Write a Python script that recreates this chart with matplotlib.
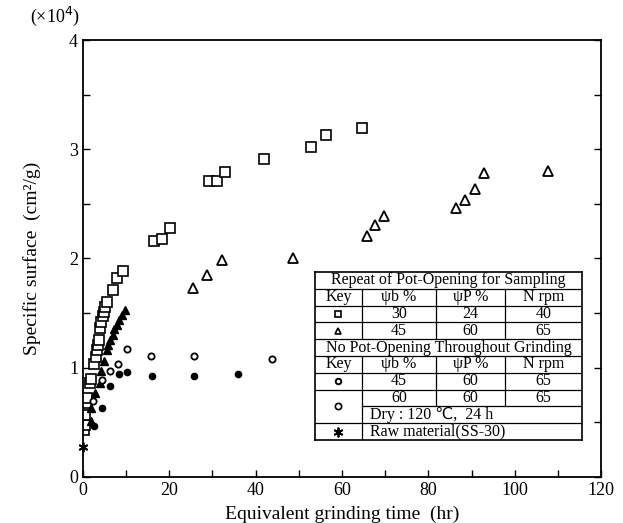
import matplotlib
matplotlib.use("Agg")
import matplotlib.pyplot as plt
from matplotlib.ticker import MultipleLocator

plt.rcParams['font.family'] = ['Liberation Serif', 'DejaVu Serif']

# repeat of pot-opening, open squares (30/24/40)
sq_t = [0.2, 0.4, 0.5, 0.7, 1.0, 1.7, 1.9, 2.5, 3.0, 3.2, 3.5, 3.8, 4.0, 4.2, 4.6, 4.8,
        5.2, 5.6, 6.9, 7.9, 9.2, 16.5, 18.3, 20.2, 29.1, 31.0, 32.8, 42.0, 52.9, 56.2, 64.6]
sq_s = [0.43, 0.48, 0.57, 0.68, 0.72, 0.86, 0.90, 1.03, 1.10, 1.16, 1.21, 1.25, 1.36, 1.42, 1.47, 1.51,
        1.56, 1.60, 1.71, 1.82, 1.89, 2.16, 2.18, 2.28, 2.71, 2.71, 2.79, 2.91, 3.02, 3.13, 3.19]

# repeat of pot-opening, open triangles (45/60/65)
tri_t = [25.6, 28.8, 32.2, 48.6, 65.7, 67.7, 69.8, 86.5, 88.6, 90.7, 92.9, 107.8]
tri_s = [1.73, 1.85, 1.99, 2.00, 2.21, 2.31, 2.39, 2.46, 2.54, 2.64, 2.78, 2.80]

# filled triangles
ftri_t = [1.8, 1.9, 2.7, 4.0, 4.2, 4.8, 5.6, 5.9, 6.3, 6.9, 7.3, 7.9, 8.4, 9.0, 9.8]
ftri_s = [0.51, 0.63, 0.77, 0.86, 0.97, 1.06, 1.16, 1.21, 1.25, 1.30, 1.35, 1.39, 1.44, 1.48, 1.53]

# no pot-opening, filled circles
fc_t = [2.5, 4.4, 6.3, 8.3, 10.2, 16.1, 25.8, 36.0]
fc_s = [0.47, 0.63, 0.83, 0.94, 0.96, 0.92, 0.92, 0.94]

# no pot-opening, open circles
oc_t = [2.3, 4.4, 6.3, 8.1, 10.3, 15.8, 25.8, 43.9]
oc_s = [0.70, 0.89, 0.97, 1.03, 1.17, 1.11, 1.11, 1.08]

# raw material
raw_t = [0.0]
raw_s = [0.27]

fig = plt.figure(figsize=(6.23, 5.23), dpi=100)
ax = fig.add_axes([0.1332, 0.088, 0.8315, 0.8355])

ax.plot(sq_t, sq_s, 's', ms=6.5, mfc='white', mec='black', mew=1.2, ls='none')
ax.plot(tri_t, tri_s, '^', ms=6.5, mfc='white', mec='black', mew=1.3, ls='none')
ax.plot(ftri_t, ftri_s, '^', ms=6, color='black', ls='none')
ax.plot(fc_t, fc_s, 'o', ms=4.5, color='black', ls='none')
ax.plot(oc_t, oc_s, 'o', ms=4.5, mfc='white', mec='black', mew=1.3, ls='none')
ax.plot(raw_t, raw_s, marker=(6, 2, 0), ms=7, mew=1.3, color='black', ls='none', clip_on=False)

ax.set_xlim(0, 120)
ax.set_ylim(0, 4)
ax.xaxis.set_major_locator(MultipleLocator(20))
ax.xaxis.set_minor_locator(MultipleLocator(10))
ax.yaxis.set_major_locator(MultipleLocator(1))
ax.yaxis.set_minor_locator(MultipleLocator(0.5))
ax.tick_params(which='both', direction='in', right=True, top=False, labelsize=13, width=1)
ax.tick_params(which='major', length=5)
ax.tick_params(which='minor', length=5)
for s in ax.spines.values():
    s.set_linewidth(1.3)

ax.set_xlabel('Equivalent grinding time  (hr)', fontsize=14, labelpad=5)
ax.set_ylabel('Specific surface  (cm²/g)', fontsize=14, labelpad=20)
fig.text(0.088, 0.968, '(×10$^4$)', fontsize=13, ha='center', va='center')

# legend table
tb = fig.add_axes([0.5056, 0.1587, 0.4286, 0.3213])
tb.set_xlim(0, 1)
tb.set_ylim(0, 10)
tb.set_xticks([])
tb.set_yticks([])
for s in tb.spines.values():
    s.set_linewidth(1.2)

c1, c2, c3 = 0.176, 0.453, 0.712
lw = 0.9
# horizontal rules (row boundaries counted from the top)
for r in range(1, 10):
    y = 10 - r
    if r == 8:
        tb.plot([c1, 1], [y, y], color='black', lw=lw)
    else:
        tb.plot([0, 1], [y, y], color='black', lw=lw)
# vertical rules
for y0, y1 in [(6, 9), (2, 5)]:
    for c in (c1, c2, c3):
        tb.plot([c, c], [y0, y1], color='black', lw=lw)
tb.plot([c1, c1], [0, 2], color='black', lw=lw)

mid = [(0 + c1) / 2, (c1 + c2) / 2, (c2 + c3) / 2, (c3 + 1) / 2]
fs = 11.5
tb.text(0.5, 9.5, 'Repeat of Pot-Opening for Sampling', ha='center', va='center', fontsize=fs)
tb.text(0.5, 5.5, 'No Pot-Opening Throughout Grinding', ha='center', va='center', fontsize=fs)
header = ['Key', 'ψb %', 'ψP %', 'N rpm']
for yy in (8.5, 4.5):
    for x, h in zip(mid, header):
        tb.text(x, yy, h, ha='center', va='center', fontsize=fs)
rows = [(7.5, ['30', '24', '40']), (6.5, ['45', '60', '65']),
        (3.5, ['45', '60', '65']), (2.5, ['60', '60', '65'])]
for yy, vals in rows:
    for x, v in zip(mid[1:], vals):
        tb.text(x, yy, v, ha='center', va='center', fontsize=fs)
tb.plot(mid[0], 7.5, 's', ms=5, mfc='white', mec='black', mew=1.2)
tb.plot(mid[0], 6.5, '^', ms=5, mfc='white', mec='black', mew=1.2)
tb.plot(mid[0], 3.5, 'o', ms=4, mfc='white', mec='black', mew=1.4)
tb.plot(mid[0], 2.0, 'o', ms=4.5, mfc='white', mec='black', mew=1.2)
tb.plot(mid[0], 0.5, marker=(6, 2, 0), ms=7, mew=1.3, color='black')
tb.text(c1 + 0.03, 1.5, 'Dry : 120 ℃,  24 h', ha='left', va='center', fontsize=fs,
        family=['Liberation Serif', 'DejaVu Sans'])
tb.text(c1 + 0.03, 0.5, 'Raw material(SS-30)', ha='left', va='center', fontsize=fs)

fig.savefig('out.png', dpi=100)
